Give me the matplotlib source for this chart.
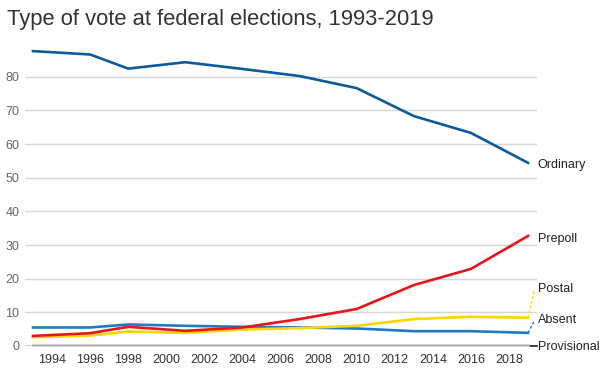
import matplotlib
matplotlib.use("Agg")
import matplotlib.pyplot as plt

plt.rcParams['font.family'] = ['Liberation Sans', 'DejaVu Sans']

# election years and share of votes (%) by type
years = [1993, 1996, 1998, 2001, 2004, 2007, 2010, 2013, 2016, 2019]
ordinary = [87.6, 86.6, 82.4, 84.3, 82.3, 80.2, 76.6, 68.3, 63.3, 54.4]
prepoll = [3.0, 3.8, 5.7, 4.5, 5.5, 8.0, 11.0, 18.1, 22.9, 32.7]
postal = [2.6, 3.1, 4.3, 3.9, 4.9, 5.3, 6.0, 8.0, 8.7, 8.4]
absent = [5.5, 5.5, 6.4, 6.0, 5.7, 5.5, 5.2, 4.4, 4.4, 3.9]
provisional = [0.4, 0.4, 0.4, 0.4, 0.4, 0.4, 0.4, 0.4, 0.4, 0.4]

series_names = ['Ordinary', 'Prepoll', 'Postal', 'Absent', 'Provisional']
label_y = [53.8, 31.8, 16.9, 7.7, -0.3]
xticks = list(range(1994, 2019, 2))
yticks = list(range(0, 81, 10))

fig = plt.figure(figsize=(6.08, 3.75), dpi=100)
ax = fig.add_axes([25 / 608, 29 / 375, 512 / 608, 306 / 375])

ax.set_xlim(1992.58, 2019.47)
ax.set_ylim(0, 90.9)

for spine in ax.spines.values():
    spine.set_visible(False)
ax.set_yticks(yticks)
ax.set_xticks(xticks)
ax.tick_params(axis='both', length=0, labelsize=9)
ax.tick_params(axis='y', colors='#666666', pad=4)
ax.tick_params(axis='x', colors='#333333', pad=6)
ax.grid(axis='y', color='#d6d6d6', linewidth=1)
ax.set_axisbelow(True)
ax.axhline(0, color='#222222', linewidth=1, zorder=3.5)

lw = 1.9
ax.plot(years, provisional, color='#cfcfcf', linewidth=2, zorder=3, clip_on=False)
ax.plot(years, absent, color='#1f7bc0', linewidth=lw, zorder=4)
ax.plot(years, postal, color='#ffd400', linewidth=lw, zorder=5)
ax.plot(years, prepoll, color='#e8151b', linewidth=lw, zorder=6)
ax.plot(years, ordinary, color='#0b5b9e', linewidth=lw, zorder=7)

# connectors to the labels on the right
ax.plot([2019, 2019.35], [postal[-1], label_y[2]], color='#ffd400',
        linewidth=1, linestyle=(0, (2, 1.5)), clip_on=False)
ax.plot([2019, 2019.35], [absent[-1], label_y[3]], color='#1f7bc0',
        linewidth=1, linestyle=(0, (2, 1.5)), clip_on=False)
ax.plot([2019.05, 2019.45], [0, 0], color='#222222', linewidth=1.2, clip_on=False)

for name, ly in zip(series_names, label_y):
    ax.text(2019.5, ly, name, fontsize=9, color='#222222',
            ha='left', va='center', clip_on=False)

fig.text(7 / 608, 1 - 19 / 375, 'Type of vote at federal elections, 1993-2019',
         fontsize=15.8, color='#333333', ha='left', va='center')

fig.savefig('out.png', dpi=100)
